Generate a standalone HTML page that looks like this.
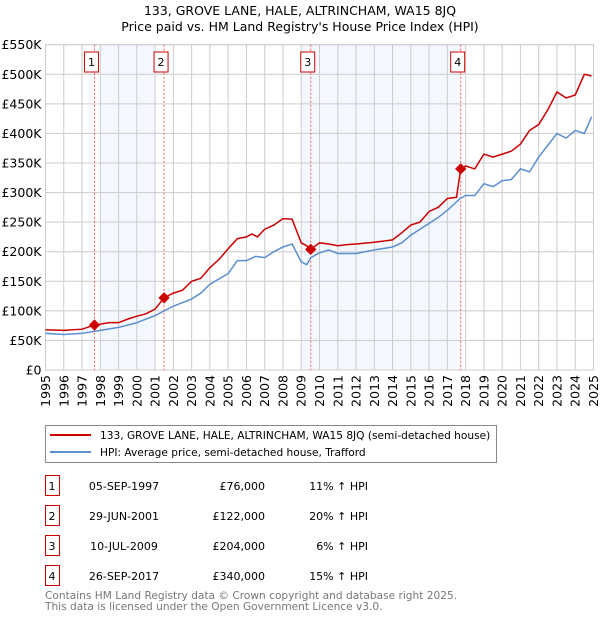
<!DOCTYPE html>
<html><head><meta charset="utf-8"><style>
body{margin:0;background:#fff;width:600px;height:620px;overflow:hidden}
svg text{font-family:"DejaVu Sans","Liberation Sans",sans-serif}
</style></head><body>
<svg id="c" width="600" height="620">
<text x="300" y="15" text-anchor="middle" font-size="12.5">133, GROVE LANE, HALE, ALTRINCHAM, WA15 8JQ</text>
<text x="300" y="31" text-anchor="middle" font-size="12.5">Price paid vs. HM Land Registry's House Price Index (HPI)</text>
<g id="plot"></g>
<g>
<rect x="45.5" y="425.5" width="451" height="37" fill="#fff" stroke="#888"/>
<line x1="50" y1="435" x2="91" y2="435" stroke="#c00" stroke-width="2"/>
<text x="100" y="439" font-size="10.6">133, GROVE LANE, HALE, ALTRINCHAM, WA15 8JQ (semi-detached house)</text>
<line x1="50" y1="452" x2="91" y2="452" stroke="#5b8fd0" stroke-width="2"/>
<text x="100" y="456" font-size="10.6">HPI: Average price, semi-detached house, Trafford</text>
</g>
<g id="table" font-size="11"></g>
<text x="45" y="599" font-size="10.6" fill="#777">Contains HM Land Registry data © Crown copyright and database right 2025.</text>
<text x="45" y="610" font-size="10.6" fill="#777">This data is licensed under the Open Government Licence v3.0.</text>
</svg>
<script>
const priceYears=[1995,1996,1997,1997.68,1998.5,1999,1999.5,2000,2000.5,2001,2001.49,2002,2002.5,2003,2003.5,2004,2004.5,2005,2005.5,2006,2006.3,2006.6,2007,2007.5,2008,2008.5,2009,2009.3,2009.52,2010,2010.5,2011,2011.5,2012,2013,2013.5,2014,2014.5,2015,2015.5,2016,2016.5,2017,2017.5,2017.73,2018,2018.5,2019,2019.5,2020,2020.5,2021,2021.5,2022,2022.5,2023,2023.5,2024,2024.5,2024.9];
const priceVals=[68,67,69,76,80,80,86,91,95,103,122,130,135,150,155,173,187,205,222,225,230,225,238,245,256,255,215,210,204,215,213,210,212,213,216,218,220,232,245,250,268,275,290,292,340,345,340,365,360,365,370,382,405,415,440,470,460,465,500,497];
const hpiYears=[1995,1996,1997,1998,1999,2000,2001,2001.5,2002,2003,2003.5,2004,2005,2005.5,2006,2006.5,2007,2007.5,2008,2008.5,2009,2009.3,2009.52,2010,2010.5,2011,2012,2013,2014,2014.5,2015,2016,2016.5,2017,2017.7,2018,2018.5,2019,2019.5,2020,2020.5,2021,2021.5,2022,2022.5,2023,2023.5,2024,2024.5,2024.9];
const hpiVals=[62,60,62,67,72,80,92,100,108,120,130,145,163,185,185,192,190,200,208,213,183,178,190,198,203,197,197,203,208,215,228,248,258,270,290,295,295,315,310,320,322,340,335,360,380,400,392,405,400,428];
const saleLabels=["1","2","3","4"];
const saleYears=[1997.68,2001.49,2009.52,2017.73];
const saleVals=[76,122,204,340];
const saleDates=["05-SEP-1997","29-JUN-2001","10-JUL-2009","26-SEP-2017"];
const salePrices=["£76,000","£122,000","£204,000","£340,000"];
const saleHpi=["11% ↑ HPI","20% ↑ HPI","6% ↑ HPI","15% ↑ HPI"];
const shadeStart=[1998,2009];
const shadeEnd=[2001,2017.73];
const yTicks=[0,50,100,150,200,250,300,350,400,450,500,550];
const yTickLabels=["£0","£50K","£100K","£150K","£200K","£250K","£300K","£350K","£400K","£450K","£500K","£550K"];
const xTicks=[];for(let y=1995;y<=2025;y++)xTicks.push(y);

const L=45.5,R=593.5,T=44.7,B=370;
const x=v=>L+(v-1995)*(R-L)/30;
const y=v=>B-v*(B-T)/550;
const NS="http://www.w3.org/2000/svg";
const g=document.getElementById('plot');
function mk(t,a,p){const e=document.createElementNS(NS,t);for(const k in a)e.setAttribute(k,a[k]);(p||g).appendChild(e);return e;}
mk('rect',{x:L,y:T,width:R-L,height:B-T,fill:'#fff'});
shadeStart.forEach((s,i)=>{const r=mk('rect',{x:x(s),y:T,width:x(shadeEnd[i])-x(s),height:B-T,fill:'#eef3fd',opacity:0.7});

});
xTicks.forEach(v=>{const l=mk('line',{x1:x(v),x2:x(v),y1:T,y2:B,stroke:'#ccc'});


const t=mk('text',{x:0,y:0,'font-size':12.5,'text-anchor':'end',transform:`translate(${x(v)+4.5},${B+5}) rotate(-90)`});t.textContent=v;

});
yTicks.forEach((v,i)=>{const l=mk('line',{x1:L,x2:R,y1:y(v),y2:y(v),stroke:'#ccc'});


const t=mk('text',{x:L-4,y:y(v)+4.5,'font-size':12.5,'text-anchor':'end'});t.textContent=yTickLabels[i];

});
mk('rect',{x:L,y:T,width:R-L,height:B-T,fill:'none',stroke:'#ccc'});
saleYears.forEach((s,i)=>{const l=mk('line',{x1:x(s),x2:x(s),y1:T,y2:B,stroke:'#f55','stroke-dasharray':'2,2'});


const r=mk('rect',{x:x(s)-10,y:52,width:14,height:20,fill:'#fff',stroke:'#c00'});


const t=mk('text',{x:x(s)-3,y:66,'font-size':11,'text-anchor':'middle'});t.textContent=saleLabels[i];

});
const hp=mk('polyline',{points:hpiYears.map((v,i)=>x(v)+','+y(hpiVals[i])).join(' '),fill:'none',stroke:'#5b8fd0','stroke-width':1.5});


const pp=mk('polyline',{points:priceYears.map((v,i)=>x(v)+','+y(priceVals[i])).join(' '),fill:'none',stroke:'#c00','stroke-width':1.5});


saleYears.forEach((s,i)=>{const d=mk('rect',{x:x(s)-4,y:y(saleVals[i])-4,width:8,height:8,fill:'#c00',transform:`rotate(45 ${x(s)} ${y(saleVals[i])})`});

});
const tb=document.getElementById('table');
saleLabels.forEach((s,i)=>{const yy=476+i*30;
const r=mk('rect',{x:45.5,y:yy-0.5,width:14,height:20,fill:'#fff',stroke:'#c00'},tb);


const cols=[[52,'middle',s],[124,'middle',saleDates[i]],[265,'end',salePrices[i]],[368,'end',saleHpi[i]]];
cols.forEach(c=>{const t=mk('text',{x:c[0],y:yy+14,'text-anchor':c[1]},tb);t.textContent=c[2];

});});
</script>
</body></html>
